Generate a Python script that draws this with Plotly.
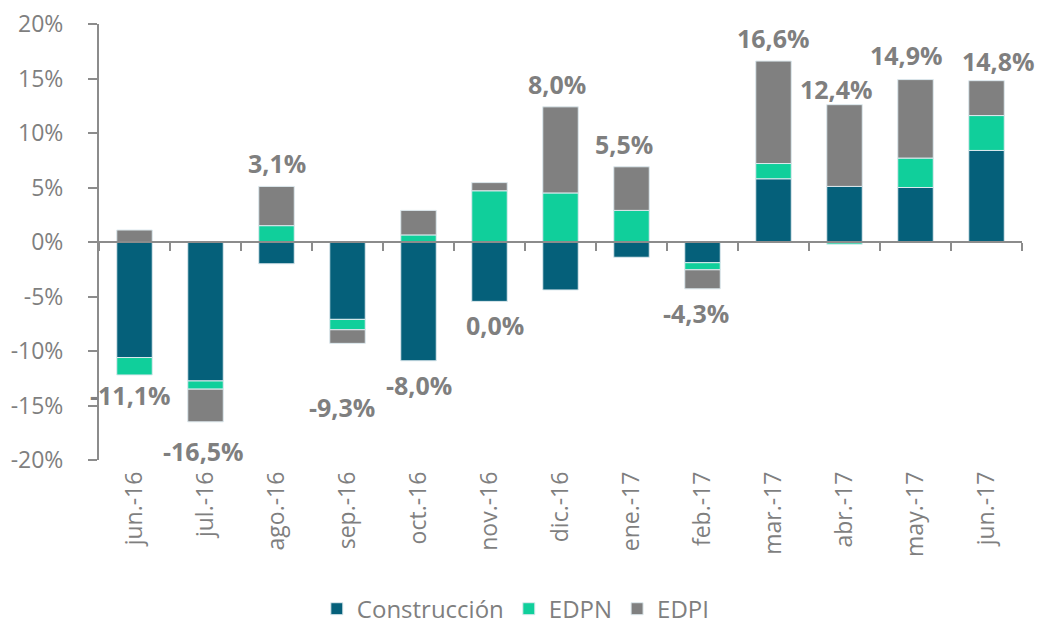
import plotly.graph_objects as go

categories = ["jun.-16", "jul.-16", "ago.-16", "sep.-16", "oct.-16", "nov.-16", "dic.-16",
              "ene.-17", "feb.-17", "mar.-17", "abr.-17", "may.-17", "jun.-17"]
construccion = [-10.6, -12.75, -2.0, -7.1, -10.9, -5.45, -4.4, -1.4, -1.9, 5.8, 5.1, 5.0, 8.4]
edpn = [-1.6, -0.75, 1.5, -0.95, 0.65, 4.7, 4.5, 2.9, -0.65, 1.4, -0.2, 2.7, 3.2]
edpi = [1.1, -3.0, 3.6, -1.25, 2.25, 0.75, 7.9, 4.0, -1.75, 9.4, 7.5, 7.2, 3.2]
totals = [-11.1, -16.5, 3.1, -9.3, -8.0, 0.0, 8.0, 5.5, -4.3, 16.6, 12.4, 14.9, 14.8]
y_tickvals = [20, 15, 10, 5, 0, -5, -10, -15, -20]
y_ticktext = ["20%", "15%", "10%", "5%", "0%", "-5%", "-10%", "-15%", "-20%"]

COL_C = "#05607A"
COL_N = "#10CF9B"
COL_I = "#808080"
GRAY = "#7f7f7f"
FONT = "Open Sans"

fig = go.Figure()
for name, vals, col in [("Construcción", construccion, COL_C), ("EDPN", edpn, COL_N), ("EDPI", edpi, COL_I)]:
    fig.add_trace(go.Bar(x=categories, y=vals, name=name, marker_color=col,
                         marker_line=dict(color="#dde9ee", width=1), xaxis="x", yaxis="y"))

# invisible trace to carry the bottom label axis
fig.add_trace(go.Scatter(x=categories, y=[0] * len(categories), mode="lines",
                         line=dict(width=0), showlegend=False, hoverinfo="skip",
                         xaxis="x2", yaxis="y"))

# (xshift, yshift) nudges of individual total labels, as placed in the reference
label_nudge = {"jun.-16": (-4, 4), "jul.-16": (-2, -5), "sep.-16": (-6, -40),
               "may.-17": (-9, 2), "jun.-17": (12, -3), "abr.-17": (-8, -7),
               "ene.-17": (-8, 0), "feb.-17": (-7, 0), "nov.-16": (5, 0),
               "dic.-16": (-4, 0)}
for i, cat in enumerate(categories):
    parts = [construccion[i], edpn[i], edpi[i]]
    pos = sum(v for v in parts if v > 0)
    neg = sum(v for v in parts if v < 0)
    txt = f"{abs(totals[i]):.1f}".replace(".", ",") + "%"
    if totals[i] < 0:
        txt = "-" + txt
    if totals[i] > 0:
        y, anchor, shift = pos, "bottom", 4
    else:
        y, anchor, shift = neg, "top", -5
    dx, dy = label_nudge.get(cat, (0, 0))
    fig.add_annotation(x=cat, y=y, xref="x", yref="y", text=f"<b>{txt}</b>", showarrow=False,
                       yanchor=anchor, yshift=shift + dy, xshift=dx,
                       font=dict(family=FONT, size=25, color=GRAY))

n = len(categories)
fig.update_layout(
    barmode="relative",
    bargap=0.5,
    width=1038, height=627,
    margin=dict(l=99, r=16, t=24, b=167, autoexpand=False),
    paper_bgcolor="white", plot_bgcolor="white",
    font=dict(family=FONT, color=GRAY, size=20),
    legend=dict(orientation="h", x=0.236, xanchor="left", y=-0.342, yanchor="middle",
                font=dict(family=FONT, size=24, color=GRAY), itemwidth=30,
                traceorder="normal"),
    xaxis=dict(type="category", range=[-0.5, n - 0.5], anchor="free", position=0.5,
               showline=True, linecolor="#8c8c8c",
               linewidth=2, ticks="outside", tickson="boundaries", ticklen=8, tickcolor="#8c8c8c",
               tickwidth=2, showticklabels=False, showgrid=False, zeroline=False, automargin=False),
    xaxis2=dict(type="category", range=[-0.5, n - 0.5], overlaying="x", anchor="y", side="bottom",
                showline=False, ticks="", showgrid=False, tickangle=-90, automargin=False,
                ticklabelstandoff=6,
                tickfont=dict(family=FONT, size=23, color=GRAY)),
    yaxis=dict(range=[-20, 20], tickvals=y_tickvals, ticktext=y_ticktext, showgrid=False,
               zeroline=False, showline=True, linecolor="#8c8c8c", linewidth=2,
               ticks="outside", ticklen=9, tickcolor="#8c8c8c", tickwidth=2,
               ticklabelstandoff=20, automargin=False, ticklabeloverflow="allow",
               tickfont=dict(family=FONT, size=23, color=GRAY)),
)

fig.write_html("out.html", config={"displayModeBar": False},
               post_script="document.body.style.margin='0';document.body.style.overflow='hidden';")
